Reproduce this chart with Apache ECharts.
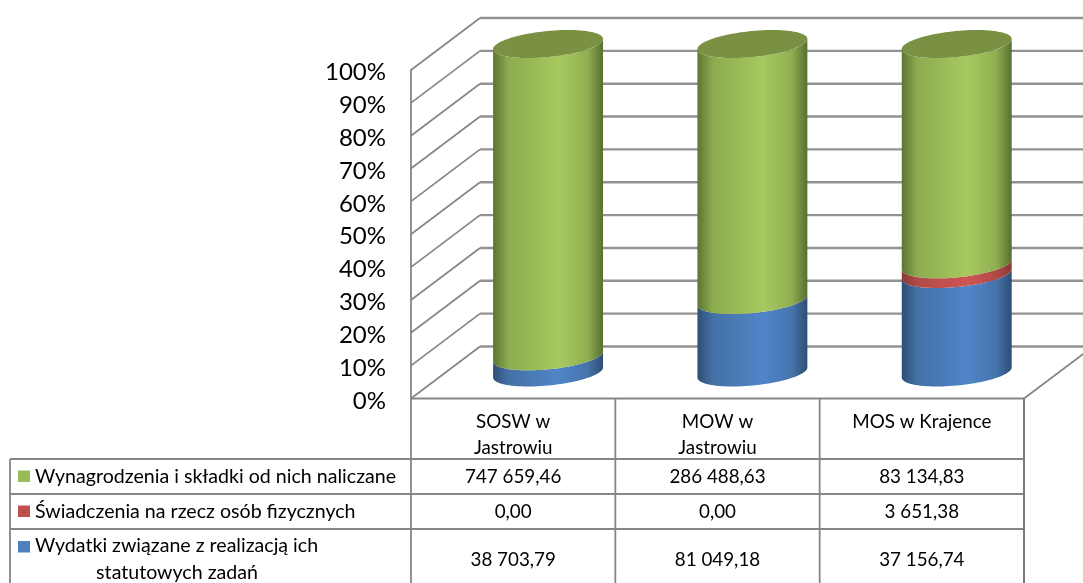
<!DOCTYPE html>
<html>
<head>
<meta charset="utf-8">
<style>html,body{margin:0;padding:0;background:#fff}#c{width:1083px;height:583px}</style>
<script src="https://cdn.jsdelivr.net/npm/echarts@6/dist/echarts.min.js"></script>
</head>
<body>
<div id="c"></div>
<script>
const categories = ['SOSW w\nJastrowiu', 'MOW w\nJastrowiu', 'MOS w Krajence'];
const wynagrodzenia = [747659.46, 286488.63, 83134.83];
const swiadczenia = [0, 0, 3651.38];
const wydatki = [38703.79, 81049.18, 37156.74];
const yTicks = [0, 10, 20, 30, 40, 50, 60, 70, 80, 90, 100];
const nameWyn = 'Wynagrodzenia i składki od nich naliczane';
const nameSw = 'Świadczenia na rzecz osób fizycznych';
const nameWyd1 = 'Wydatki związane z realizacją ich';
const nameWyd2 = 'statutowych zadań';

const FONT = 'Lato, "Open Sans", sans-serif';
const CELL_FONT = '18.8px ' + FONT;
const LEGEND_FONT = '19.6px ' + FONT;
const DEPTH = [69, -52];
const CYL = { A: 51.2, B: 20, C: 14 };
const LINE = '#868686';

const totals = categories.map((_, i) => wynagrodzenia[i] + swiadczenia[i] + wydatki[i]);
const pct = arr => arr.map((v, i) => v / totals[i] * 100);
const stackRows = (lower, own) => own.map((v, i) => [i, lower[i], lower[i] + v]);
const pWyd = pct(wydatki), pSw = pct(swiadczenia), pWyn = pct(wynagrodzenia);
const rowsWyd = stackRows(categories.map(() => 0), pWyd);
const rowsSw = stackRows(pWyd, pSw);
const rowsWyn = stackRows(rowsSw.map(r => r[2]), pWyn);

function grad(stops) {
  return { type: 'linear', x: 0, y: 0, x2: 1, y2: 0,
    colorStops: [0, .14, .6, .86, 1].map((o, i) => ({ offset: o, color: stops[i] })) };
}
const GREEN = grad(['#5c7631', '#8dab50', '#a7c95f', '#90ae51', '#566f2f']);
const RED = grad(['#8a3a38', '#b04a47', '#cd5653', '#b04a47', '#8a3a38']);
const BLUE = grad(['#2e4e75', '#4471a6', '#4f85c8', '#4674ac', '#2e4e75']);

function arc(cx, cy, from, to, n) {
  const pts = [];
  for (let i = 0; i <= n; i++) {
    const t = from + (to - from) * i / n;
    pts.push([cx + CYL.A * Math.cos(t) + CYL.B * Math.sin(t), cy - CYL.C * Math.sin(t)]);
  }
  return pts;
}
const T0 = Math.atan2(CYL.B, CYL.A);

function cylinder(fill, withTop) {
  return function (params, api) {
    const idx = api.value(0), lo = api.value(1), hi = api.value(2);
    if (hi - lo <= 0) return null;
    const a = api.coord([idx, lo]), b = api.coord([idx, hi]);
    const cx = a[0] + DEPTH[0] / 2 + 0.4, yLo = a[1] + DEPTH[1] / 2, yHi = b[1] + DEPTH[1] / 2;
    const lower = arc(cx, yLo, T0 - Math.PI, T0, 48);
    const upper = arc(cx, yHi, T0, T0 - Math.PI, 48);
    const children = [{ type: 'polygon', shape: { points: lower.concat(upper) }, style: { fill } }];
    if (withTop) {
      children.push({ type: 'polygon', shape: { points: arc(cx, yHi, 0, Math.PI * 2, 96) }, style: { fill: '#7a9144' } });
    }
    return { type: 'group', children };
  };
}

function line(x1, y1, x2, y2, w, c) {
  return { type: 'line', shape: { x1, y1, x2, y2 }, style: { stroke: c || LINE, lineWidth: w || 1.8 } };
}

function renderWall(params, api) {
  const s = params.coordSys;
  const v = api.value(0);
  const y = api.coord([0, v])[1];
  const bx = s.x + DEPTH[0], by = y + DEPTH[1];
  const kids = [line(s.x, y, bx, by, 1.7), line(bx, by, s.x + s.width + DEPTH[0], by, 2.4, '#929292')];
  if (v === yTicks[0]) {
    kids.push(line(s.x, y, s.x + s.width, y, 1.8));
    kids.push(line(s.x + s.width, y, s.x + s.width + DEPTH[0], by, 1.8));
  }
  return { type: 'group', children: kids };
}

const fmt = v => {
  const [i, d] = v.toFixed(2).split('.');
  return i.replace(/\B(?=(\d{3})+$)/g, ' ') + ',' + d;
};
const ROW_Y = [459, 494, 529, 590];
const ROW_TEXT = [477, 511.5, 559.5];
const TABLE_LEFT = 10;

function cell(x, y, text, align, font) {
  return { type: 'text', style: { x, y, text, font: font || CELL_FONT, fill: '#000', align: align || 'center', verticalAlign: 'middle' } };
}
function swatch(y, fill) {
  return { type: 'rect', shape: { x: 18, y, width: 12, height: 11.5 }, style: { fill } };
}
function renderTable(params, api) {
  const s = params.coordSys;
  const kids = [];
  const right = s.x + s.width;
  ROW_Y.forEach(y => kids.push(line(TABLE_LEFT, y, right, y, 1.8)));
  const colW = api.size([1, 0])[0];
  kids.push(line(TABLE_LEFT, ROW_Y[0], TABLE_LEFT, 583, 1.8));
  categories.forEach((c, i) => {
    const xc = api.coord([i, 0])[0];
    kids.push(line(xc - colW / 2, s.y + s.height, xc - colW / 2, 583, 1.8));
    kids.push(cell(xc, ROW_TEXT[0], fmt(wynagrodzenia[i])));
    kids.push(cell(xc, ROW_TEXT[1], fmt(swiadczenia[i])));
    kids.push(cell(xc, ROW_TEXT[2], fmt(wydatki[i])));
  });
  kids.push(line(right, s.y + s.height, right, 583, 2, '#7a7a7a'));
  kids.push(swatch(470.5, '#9bbb59'), swatch(505.5, '#c0504d'), swatch(541, '#4f81bd'));
  kids.push(cell(35, ROW_TEXT[0], nameWyn, 'left', LEGEND_FONT), cell(35, ROW_TEXT[1], nameSw, 'left', LEGEND_FONT),
            cell(35, 546, nameWyd1, 'left', LEGEND_FONT), cell(177, 573, nameWyd2, 'center', LEGEND_FONT));
  return { type: 'group', children: kids };
}

const chart = echarts.init(document.getElementById('c'), null, { renderer: 'canvas' });
chart.setOption({
  animation: false,
  backgroundColor: '#fff',
  grid: { left: 411, right: 59, top: 70, bottom: 184.5, containLabel: false },
  xAxis: {
    type: 'category', data: categories,
    axisLine: { show: false }, axisTick: { show: false },
    axisLabel: { color: '#000', fontFamily: FONT, fontSize: 18.8, lineHeight: 26, margin: 10, interval: 0, verticalAlign: 'top' }
  },
  yAxis: {
    type: 'value', min: 0, max: 100, interval: 10,
    splitLine: { show: false },
    axisTick: { show: false },
    axisLine: { show: true, lineStyle: { color: LINE, width: 1.8 } },
    axisLabel: { color: '#000', fontFamily: FONT, fontSize: 24, margin: 25, verticalAlign: 'top', lineHeight: 5, formatter: '{value}%' }
  },
  series: [
    { type: 'custom', name: 'wall', data: yTicks.map(v => [v]), renderItem: renderWall, silent: true, z: 1, encode: { y: 0 } },
    { type: 'custom', name: 'table', data: [[0]], renderItem: renderTable, silent: true, z: 1 },
    { type: 'custom', name: nameWyd1 + ' ' + nameWyd2, data: rowsWyd, renderItem: cylinder(BLUE, false), z: 2, encode: { x: 0, y: [1, 2] } },
    { type: 'custom', name: nameSw, data: rowsSw, renderItem: cylinder(RED, false), z: 3, encode: { x: 0, y: [1, 2] } },
    { type: 'custom', name: nameWyn, data: rowsWyn, renderItem: cylinder(GREEN, true), z: 4, encode: { x: 0, y: [1, 2] } }
  ]
});
</script>
</body>
</html>
